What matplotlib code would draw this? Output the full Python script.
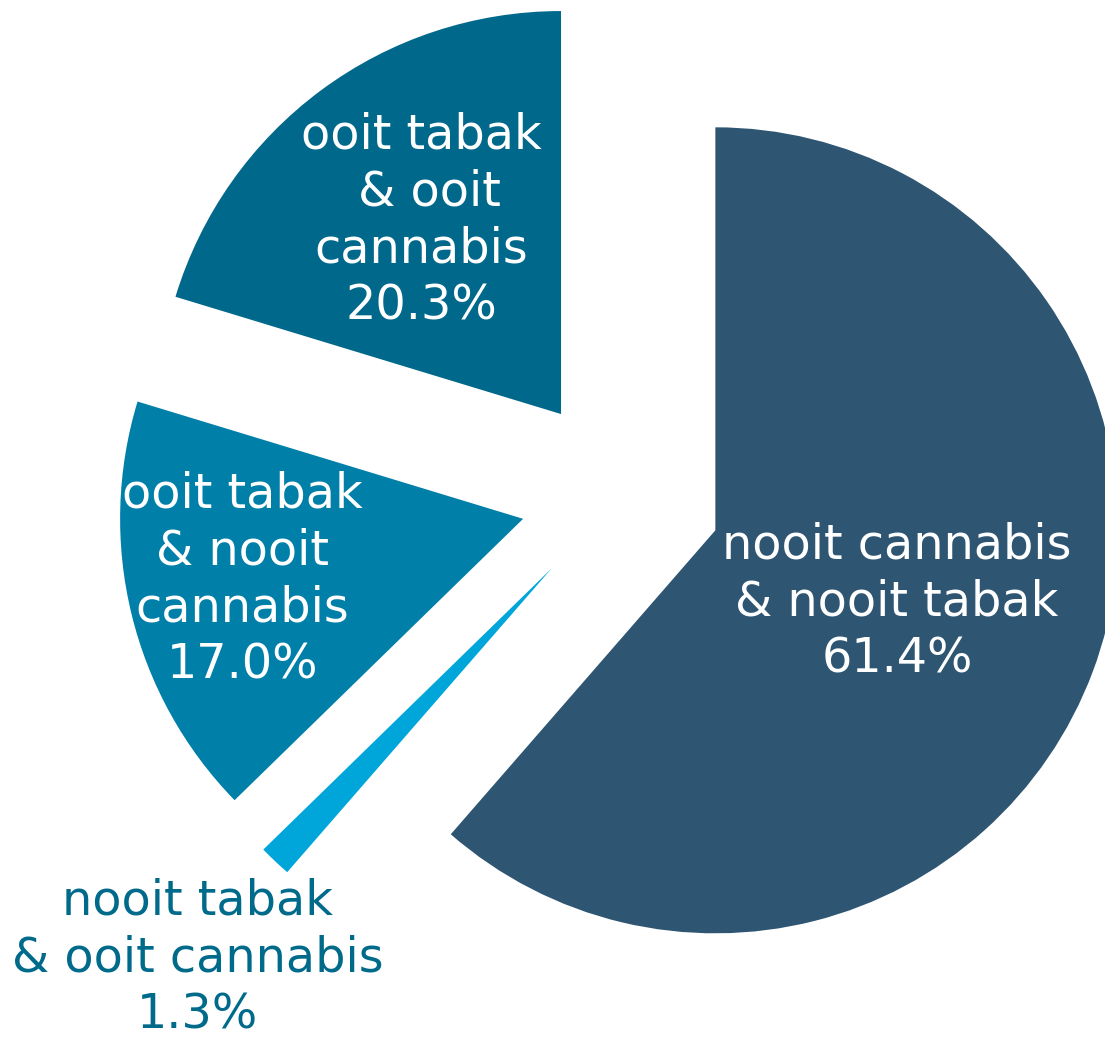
#!/usr/bin/env python3
# -*- coding: utf-8 -*-

import matplotlib
matplotlib.use("Agg")
import matplotlib.pyplot as plt

labels = [
    "nooit cannabis\n& nooit tabak",
    "nooit tabak\n& ooit cannabis",
    "ooit tabak\n& nooit\ncannabis",
    "ooit tabak\n & ooit\ncannabis",
]
values = [61.4, 1.3, 17.0, 20.3]
colors = ["#2E5572", "#00A6DA", "#007FA8", "#00688A"]

# label centres (data units, pie radius = 1) and text colours
label_pos = [(0.685, -0.265), (-1.05, -1.15), (-0.94, -0.21), (-0.495, 0.68)]
label_col = ["white", "#006A8A", "white", "white"]


def main():
    fig = plt.figure(figsize=(11.05, 10.37), dpi=100)
    ax = fig.add_axes([0, 0, 1, 1])

    ax.pie(values, colors=colors, startangle=90, counterclock=False,
           explode=[0.25] * len(values), radius=1,
           wedgeprops=dict(linewidth=0))

    for lab, v, (x, y), c in zip(labels, values, label_pos, label_col):
        ax.text(x, y, f"{lab}\n{v:.1f}%", ha="center", va="center",
                color=c, fontsize=34.4, linespacing=1.27,
                family="DejaVu Sans")

    # centre at pixel (621, 495), 403 px per unit
    ax.set_xlim(-621 / 403, (1105 - 621) / 403)
    ax.set_ylim(-(1037 - 495) / 403, 495 / 403)
    ax.set_aspect("equal")
    ax.axis("off")

    fig.savefig("out.png", dpi=100)


if __name__ == '__main__':
    main()
